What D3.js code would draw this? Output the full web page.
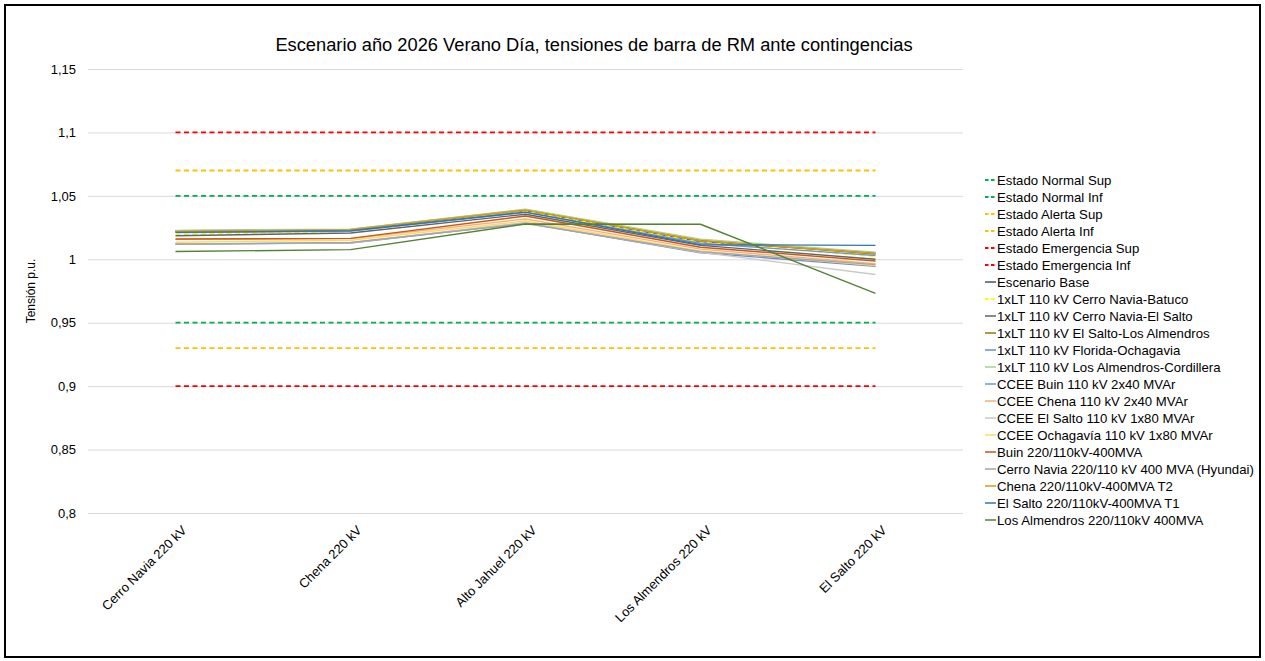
<!DOCTYPE html>
<html>
<head>
<meta charset="utf-8">
<script src="https://cdn.jsdelivr.net/npm/d3@7"></script>
<style>
  html, body { margin: 0; padding: 0; background: #fff; }
  svg { display: block; font-family: "Liberation Sans", Arial, sans-serif; }
</style>
</head>
<body>
<svg id="chart" width="1265" height="661"></svg>
<script>
// Barras de 220 kV de la Región Metropolitana
const categories = ["Cerro Navia 220 kV", "Chena 220 kV", "Alto Jahuel 220 kV", "Los Almendros 220 kV", "El Salto 220 kV"];

// Límites de operación (p.u.)
const normalSup = [1.05, 1.05, 1.05, 1.05, 1.05];
const normalInf = [0.95, 0.95, 0.95, 0.95, 0.95];
const alertaSup = [1.07, 1.07, 1.07, 1.07, 1.07];
const alertaInf = [0.93, 0.93, 0.93, 0.93, 0.93];
const emergSup  = [1.10, 1.10, 1.10, 1.10, 1.10];
const emergInf  = [0.90, 0.90, 0.90, 0.90, 0.90];

// Tensiones por contingencia (p.u.)
const escenarioBase        = [1.0222, 1.0232, 1.0385, 1.0140, 1.0050];
const ltCerroNaviaBatuco   = [1.0195, 1.0222, 1.0380, 1.0133, 1.0024];
const ltCerroNaviaElSalto  = [1.0185, 1.0207, 1.0355, 1.0110, 1.0000];
const ltElSaltoLosAlmendros= [1.0225, 1.0236, 1.0390, 1.0150, 1.0042];
const ltFloridaOchagavia   = [1.0120, 1.0128, 1.0285, 1.0052, 0.9945];
const ltAlmendrosCordillera= [1.0228, 1.0238, 1.0395, 1.0158, 1.0055];
const cceeBuin             = [1.0210, 1.0222, 1.0370, 1.0126, 1.0030];
const cceeChena            = [1.0158, 1.0163, 1.0318, 1.0080, 0.9965];
const cceeElSalto          = [1.0120, 1.0130, 1.0290, 1.0055, 0.9880];
const cceeOchagavia        = [1.0134, 1.0150, 1.0302, 1.0065, 0.9950];
const trBuin               = [1.0160, 1.0165, 1.0341, 1.0095, 0.9987];
const trCerroNavia         = [1.0118, 1.0132, 1.0282, 1.0060, 0.9958];
const trChenaT2            = [1.0220, 1.0234, 1.0388, 1.0146, 1.0046];
const trElSaltoT1          = [1.0212, 1.0225, 1.0372, 1.0115, 1.0110];
const trLosAlmendros       = [1.0061, 1.0076, 1.0278, 1.0276, 0.9732];

const yTicks = [0.8, 0.85, 0.9, 0.95, 1.0, 1.05, 1.1, 1.15];

const series = [
  { name: "Estado Normal Sup", values: normalSup, color: "#00B050", dash: true },
  { name: "Estado Normal Inf", values: normalInf, color: "#00B050", dash: true },
  { name: "Estado Alerta Sup", values: alertaSup, color: "#FFC000", dash: true },
  { name: "Estado Alerta Inf", values: alertaInf, color: "#FFC000", dash: true },
  { name: "Estado Emergencia Sup", values: emergSup, color: "#FF0000", dash: true },
  { name: "Estado Emergencia Inf", values: emergInf, color: "#FF0000", dash: true },
  { name: "Escenario Base", values: escenarioBase, color: "#44546A" },
  { name: "1xLT 110 kV Cerro Navia-Batuco", values: ltCerroNaviaBatuco, color: "#FFFF00", dash: true },
  { name: "1xLT 110 kV Cerro Navia-El Salto", values: ltCerroNaviaElSalto, color: "#636363" },
  { name: "1xLT 110 kV El Salto-Los Almendros", values: ltElSaltoLosAlmendros, color: "#997300" },
  { name: "1xLT 110 kV Florida-Ochagavia", values: ltFloridaOchagavia, color: "#698ED0" },
  { name: "1xLT 110 kV Los Almendros-Cordillera", values: ltAlmendrosCordillera, color: "#A9D18E" },
  { name: "CCEE Buin 110 kV 2x40 MVAr", values: cceeBuin, color: "#6F93D8" },
  { name: "CCEE Chena 110 kV 2x40 MVAr", values: cceeChena, color: "#F4B183" },
  { name: "CCEE El Salto 110 kV 1x80 MVAr", values: cceeElSalto, color: "#C9C9C9" },
  { name: "CCEE Ochagavía 110 kV 1x80 MVAr", values: cceeOchagavia, color: "#FFD966" },
  { name: "Buin 220/110kV-400MVA", values: trBuin, color: "#C55A11" },
  { name: "Cerro Navia 220/110 kV 400 MVA (Hyundai)", values: trCerroNavia, color: "#A5A5A5" },
  { name: "Chena 220/110kV-400MVA T2", values: trChenaT2, color: "#D99A1C" },
  { name: "El Salto 220/110kV-400MVA T1", values: trElSaltoT1, color: "#2E75B6" },
  { name: "Los Almendros 220/110kV 400MVA", values: trLosAlmendros, color: "#548235" }
];

const svg = d3.select("#chart");

// Marco del gráfico
svg.append("rect")
  .attr("x", 5).attr("y", 5).attr("width", 1255).attr("height", 652)
  .attr("fill", "#fff").attr("stroke", "#000").attr("stroke-width", 2);

const plot = { left: 88, right: 963, top: 69, bottom: 513 };

const x = d3.scaleBand().domain(categories).range([plot.left, plot.right]).paddingInner(0).paddingOuter(0);
const y = d3.scaleLinear().domain([0.8, 1.15]).range([plot.bottom, plot.top]);
const cx = c => x(c) + x.bandwidth() / 2;

// Título
svg.append("text")
  .attr("x", 594).attr("y", 51)
  .attr("text-anchor", "middle")
  .attr("font-size", 18.3)
  .attr("fill", "#000")
  .text("Escenario año 2026 Verano Día, tensiones de barra de RM ante contingencias");

// Grilla horizontal y etiquetas del eje Y
const fmt = v => String(+v.toFixed(2)).replace(".", ",");
const yAxis = d3.axisLeft(y).tickValues(yTicks).tickSize(-(plot.right - plot.left)).tickFormat(fmt).tickPadding(12);
const gy = svg.append("g").attr("transform", `translate(${plot.left},0)`).call(yAxis);
gy.select(".domain").remove();
gy.selectAll(".tick line").attr("stroke", "#D9D9D9").attr("stroke-width", 1);
gy.selectAll(".tick text").attr("font-size", 13).attr("fill", "#000")
  .attr("font-family", "'Liberation Sans', Arial, sans-serif");

// Título del eje Y
svg.append("text")
  .attr("transform", `translate(35,${(plot.top + plot.bottom) / 2}) rotate(-90)`)
  .attr("text-anchor", "middle")
  .attr("font-size", 12)
  .text("Tensión p.u.");

// Etiquetas del eje X (rotadas)
const xAxis = d3.axisBottom(x).tickSize(0).tickPadding(0);
const gx = svg.append("g").attr("transform", `translate(0,${plot.bottom})`).call(xAxis);
gx.select(".domain").remove();
gx.selectAll(".tick text")
  .attr("font-size", 13).attr("fill", "#000")
  .attr("font-family", "'Liberation Sans', Arial, sans-serif")
  .attr("text-anchor", "end")
  .attr("dy", "0")
  .attr("transform", "translate(12,18) rotate(-45)");

// Series
const line = d3.line().x((d, i) => cx(categories[i])).y(d => y(d));
const gl = svg.append("g");
series.forEach(s => {
  gl.append("path")
    .datum(s.values)
    .attr("d", line)
    .attr("fill", "none")
    .attr("stroke", s.color)
    .attr("stroke-width", s.dash ? 1.8 : 1.4)
    .attr("stroke-dasharray", s.dash ? "5,3.5" : null)
    .attr("stroke-linejoin", "round");
});

// Leyenda
const lg = svg.append("g").attr("transform", "translate(985,180)");
const rowH = 17;
series.forEach((s, i) => {
  const row = lg.append("g").attr("transform", `translate(0,${i * rowH})`);
  row.append("line")
    .attr("x1", 0).attr("x2", 11).attr("y1", 0).attr("y2", 0)
    .attr("stroke", s.color)
    .attr("stroke-width", s.dash ? 1.8 : 1.5)
    .attr("stroke-dasharray", s.dash ? "3.5,2.5" : null);
  row.append("text")
    .attr("x", 12).attr("y", 0).attr("dy", "0.35em")
    .attr("font-size", 13.2)
    .text(s.name);
});
</script>
</body>
</html>
